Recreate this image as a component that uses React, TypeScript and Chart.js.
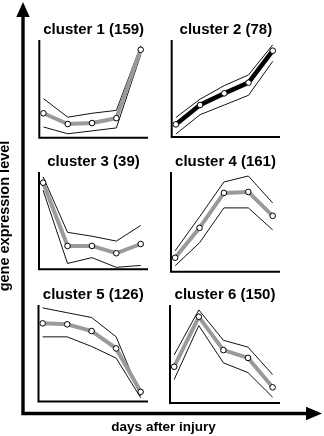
import React, { useEffect, useRef } from "react";
import { Chart, registerables } from "chart.js";

Chart.register(...registerables);

// ---- data ----
const days = [0, 1, 2, 3, 4];
const clusterNames = [
  "cluster 1 (159)",
  "cluster 2 (78)",
  "cluster 3 (39)",
  "cluster 4 (161)",
  "cluster 5 (126)",
  "cluster 6 (150)",
];
const yAxisLabel = "gene expression level";
const xAxisLabel = "days after injury";

const mean1 = [25, 14, 15, 20, 90];
const upper1 = [40, 21, 25, 28, 94];
const lower1 = [11, 4, 7, 10, 85];

const mean2 = [13, 33, 45, 56, 89];
const upper2 = [20, 39, 53, 64, 95];
const lower2 = [3, 23, 33, 43, 78];

const mean3 = [89, 24, 24, 16.5, 26];
const upper3 = [95, 38, 34, 29, 45];
const lower3 = [81, 6, 12, 2, 4];

const mean4 = [14, 44, 79, 80, 56];
const upper4 = [21, 55, 90, 96, 69];
const lower4 = [6, 29, 64, 64, 42];

const mean5 = [81, 80, 73, 55, 10];
const upper5 = [97, 92, 87, 67, 6];
const lower5 = [67, 67, 57, 45, 4];

const mean6 = [37, 88, 54, 46, 16];
const upper6 = [49, 95, 64, 57, 29];
const lower6 = [24, 79, 41, 31, 6];

const FONT = '"Liberation Sans", Arial, Helvetica, sans-serif';

type PanelDef = {
  name: string;
  mean: number[];
  upper: number[];
  lower: number[];
  color: string;
  width: number;
  box: [number, number, number, number]; // left, top, right, bottom of plot
};

const panels: PanelDef[] = [
  { name: clusterNames[0], mean: mean1, upper: upper1, lower: lower1, color: "#9a9a9a", width: 4, box: [39.3, 40, 148, 137.7] },
  { name: clusterNames[1], mean: mean2, upper: upper2, lower: lower2, color: "#000000", width: 4.5, box: [171.7, 40, 280, 137] },
  { name: clusterNames[2], mean: mean3, upper: upper3, lower: lower3, color: "#9a9a9a", width: 4, box: [39, 172, 148, 269.3] },
  { name: clusterNames[3], mean: mean4, upper: upper4, lower: lower4, color: "#9a9a9a", width: 4, box: [171, 172, 280, 271.7] },
  { name: clusterNames[4], mean: mean5, upper: upper5, lower: lower5, color: "#9a9a9a", width: 4, box: [38.5, 305, 148, 401.5] },
  { name: clusterNames[5], mean: mean6, upper: upper6, lower: lower6, color: "#9a9a9a", width: 4, box: [170, 305, 280, 403] },
];

const toPts = (arr: number[]) => days.map((d, i) => ({ x: d, y: arr[i] }));

function Panel({ p }: { p: PanelDef }) {
  const ref = useRef<HTMLCanvasElement>(null);
  const [l, t, r, b] = p.box;
  const cl = Math.floor(l) - 12;
  const ct = Math.floor(t) - 30;
  const cw = Math.ceil(r) + 12 - cl;
  const ch = Math.ceil(b) + 8 - ct;

  useEffect(() => {
    const chart = new Chart(ref.current!, {
      type: "line",
      data: {
        datasets: [
          {
            data: toPts(p.mean),
            borderColor: p.color,
            borderWidth: p.width,
            pointRadius: 2.8,
            pointBackgroundColor: "#ffffff",
            pointBorderColor: "#000000",
            pointBorderWidth: 1,
            tension: 0,
            order: 0,
            clip: false,
          } as any,
          {
            data: toPts(p.upper),
            borderColor: "#111111",
            borderWidth: 1,
            pointRadius: 0,
            tension: 0,
            order: 1,
            clip: false,
          } as any,
          {
            data: toPts(p.lower),
            borderColor: "#111111",
            borderWidth: 1,
            pointRadius: 0,
            tension: 0,
            order: 1,
            clip: false,
          } as any,
        ],
      },
      options: {
        responsive: false,
        animation: false,
        events: [],
        layout: {
          padding: { left: l - cl, top: t - ct, right: cl + cw - r, bottom: ct + ch - b },
        },
        scales: {
          x: { type: "linear", min: -0.17, max: 4.3, display: false },
          y: { type: "linear", min: 0, max: 100, display: false },
        },
        plugins: { legend: { display: false }, tooltip: { enabled: false }, title: { display: false } },
      },
      plugins: [
        {
          id: "frame",
          beforeDatasetsDraw(c: any) {
            const ctx = c.ctx;
            const a = c.chartArea;
            ctx.save();
            ctx.strokeStyle = "#000";
            ctx.lineWidth = 2;
            ctx.lineJoin = "miter";
            ctx.beginPath();
            ctx.moveTo(a.left, a.top);
            ctx.lineTo(a.left, a.bottom);
            ctx.lineTo(a.right, a.bottom);
            ctx.stroke();
            ctx.fillStyle = "#000";
            ctx.font = `bold 15px ${FONT}`;
            ctx.textAlign = "center";
            ctx.textBaseline = "alphabetic";
            ctx.fillText(p.name, (a.left + a.right) / 2, a.top - 6);
            ctx.restore();
          },
        },
      ],
    });
    return () => chart.destroy();
  }, []);

  return (
    <canvas
      ref={ref}
      width={cw}
      height={ch}
      style={{ position: "absolute", left: cl, top: ct, width: cw, height: ch }}
    />
  );
}

function Frame() {
  const ref = useRef<HTMLCanvasElement>(null);
  useEffect(() => {
    const chart = new Chart(ref.current!, {
      type: "line",
      data: { datasets: [] },
      options: {
        responsive: false,
        animation: false,
        events: [],
        layout: { padding: { left: 23, top: 2, right: 2, bottom: 22.5 } },
        scales: {
          x: { type: "linear", min: 0, max: 1, display: false },
          y: { type: "linear", min: 0, max: 1, display: false },
        },
        plugins: { legend: { display: false }, tooltip: { enabled: false } },
      },
      plugins: [
        {
          id: "bigAxes",
          afterDraw(c: any) {
            const ctx = c.ctx;
            const a = c.chartArea;
            ctx.save();
            ctx.strokeStyle = "#000";
            ctx.fillStyle = "#000";
            ctx.lineWidth = 3.4;
            ctx.lineJoin = "miter";
            ctx.beginPath();
            ctx.moveTo(a.left, a.top + 14);
            ctx.lineTo(a.left, a.bottom);
            ctx.lineTo(a.right - 15, a.bottom);
            ctx.stroke();
            // vertical arrowhead
            ctx.beginPath();
            ctx.moveTo(a.left, a.top);
            ctx.lineTo(a.left - 6.7, a.top + 15);
            ctx.lineTo(a.left + 6.7, a.top + 15);
            ctx.closePath();
            ctx.fill();
            // horizontal arrowhead
            ctx.beginPath();
            ctx.moveTo(a.right, a.bottom);
            ctx.lineTo(a.right - 16, a.bottom - 6.7);
            ctx.lineTo(a.right - 16, a.bottom + 6.7);
            ctx.closePath();
            ctx.fill();
            // labels
            ctx.font = `bold 13.5px ${FONT}`;
            ctx.textAlign = "center";
            ctx.textBaseline = "alphabetic";
            ctx.fillText(xAxisLabel, 163.5, a.bottom + 17.5);
            ctx.save();
            ctx.translate(a.left - 14.5, 216);
            ctx.rotate(-Math.PI / 2);
            ctx.font = `bold 14.5px ${FONT}`;
            ctx.fillText(yAxisLabel, 0, 0);
            ctx.restore();
            ctx.restore();
          },
        },
      ],
    });
    return () => chart.destroy();
  }, []);
  return (
    <canvas
      ref={ref}
      width={324}
      height={436}
      style={{ position: "absolute", left: 0, top: 0, width: 324, height: 436 }}
    />
  );
}

export default function App() {
  return (
    <div style={{ position: "fixed", left: 0, top: 0, width: 324, height: 436, background: "#fff" }}>
      <Frame />
      {panels.map((p, i) => (
        <Panel key={i} p={p} />
      ))}
    </div>
  );
}
